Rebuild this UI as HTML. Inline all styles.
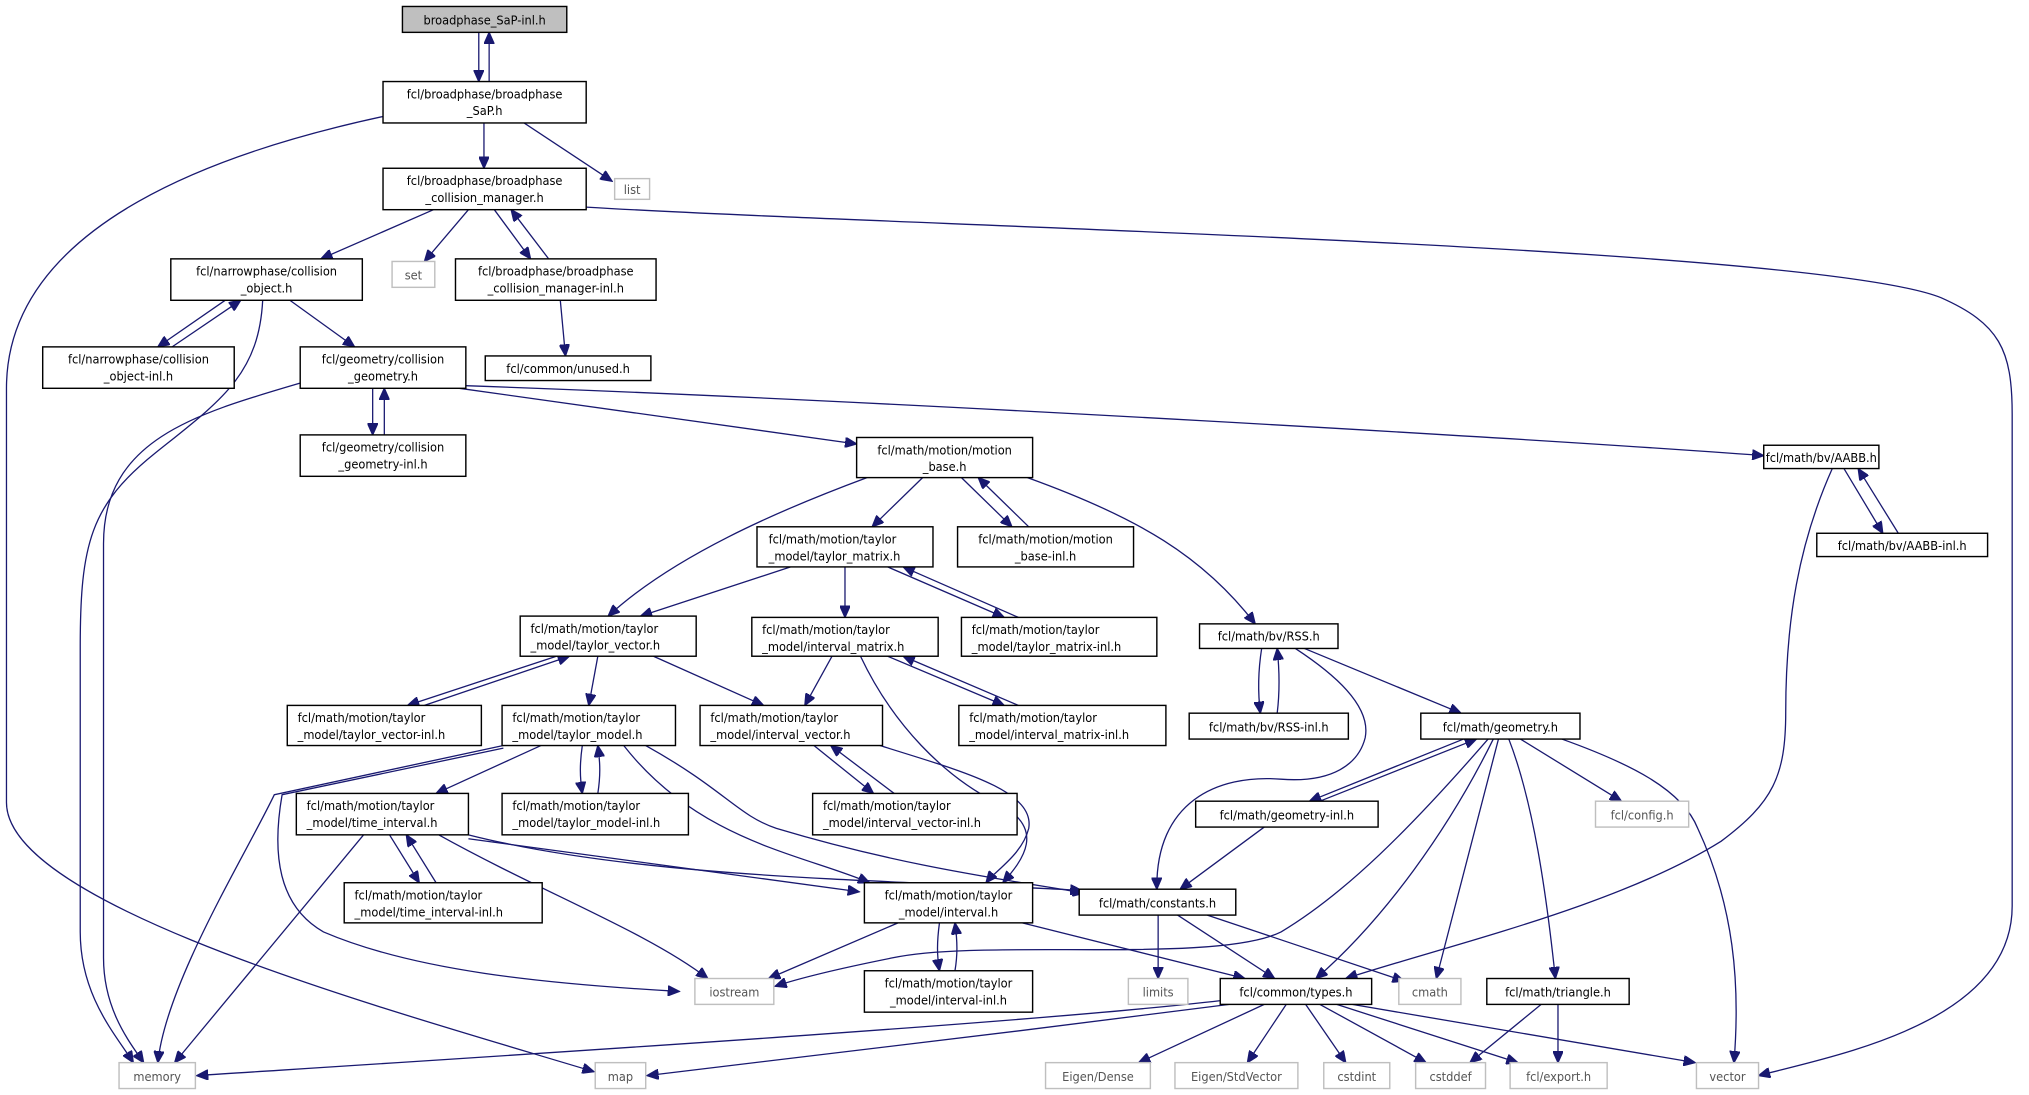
<!DOCTYPE html>
<html><head><meta charset="utf-8"><style>
html,body{margin:0;padding:0;background:#fff;}
svg{display:block;}
text{font-family:"DejaVu Sans Condensed","DejaVu Sans","Liberation Sans",sans-serif;font-size:9.8px;fill:#000;}
.b{fill:#fff;stroke:#000;stroke-width:1.1;}
.g{fill:#fff;stroke:#bfbfbf;stroke-width:1.1;}
.gt{fill:#555;}
path{fill:none;stroke:#191970;stroke-width:1;}
</style></head><body>
<svg width="2029" height="1095" viewBox="0 0 1568 846" preserveAspectRatio="none" xmlns="http://www.w3.org/2000/svg">
<defs><marker id="a" markerUnits="userSpaceOnUse" markerWidth="10" markerHeight="8" refX="9" refY="4" orient="auto"><path d="M0,0 L9,4 L0,8 Z" style="fill:#191970;stroke:#191970"/></marker></defs>
<g marker-end="url(#a)">
<path d="M370,25 L370,63"/><path d="M378,63 L378,25"/>
<path d="M374,95 L374,130"/>
<path d="M405,95 L473,140"/>
<path d="M296,90 C180,115 5,170 5,300 L5,620 C5,700 300,780 459,828"/>
<path d="M453,160 C700,175 1400,190 1500,230 C1545,250 1555,270 1555,320 L1555,700 C1555,790 1420,815 1359,831"/>
<path d="M335,162 L248,200"/>
<path d="M362,162 L328,202"/>
<path d="M382,162 L410,200"/><path d="M424,200 L395,162"/>
<path d="M433,232 L437,275"/>
<path d="M174,232 L122,268"/><path d="M133,268 L186,232"/>
<path d="M224,232 L274,268"/>
<path d="M203,232 C200,290 170,310 120,350 C70,390 62,420 62,500 L62,720 C62,770 90,800 103,821"/>
<path d="M232,296 C150,320 80,340 80,420 L80,740 C80,780 100,805 111,821"/>
<path d="M389,576 L212,614 C190,660 128,760 122,821"/>
<path d="M281,645 L135,821"/>
<path d="M288,300 L288,336"/><path d="M297,336 L297,300"/>
<path d="M355,300 L662,343"/>
<path d="M360,298 C700,310 1200,340 1363,352"/>
<path d="M713,369 L674,407"/>
<path d="M743,369 L782,407"/><path d="M795,407 L756,369"/>
<path d="M794,369 C880,400 930,430 970,482"/>
<path d="M670,369 C600,395 520,430 470,476"/>
<path d="M611,438 L495,476"/>
<path d="M653,438 L653,477"/>
<path d="M686,438 L776,477"/><path d="M787,477 L698,438"/>
<path d="M643,507 L622,545"/>
<path d="M686,507 L776,545"/><path d="M787,545 L698,507"/>
<path d="M665,507 C690,560 730,600 770,620 C810,640 790,665 775,682"/>
<path d="M680,576 C740,595 800,610 795,640 C790,660 770,672 762,682"/>
<path d="M975,501 C972,520 972,535 974,551"/><path d="M987,551 C989,535 989,520 987,501"/>
<path d="M1008,501 L1129,551"/>
<path d="M1001,501 C1030,520 1060,545 1055,570 C1050,590 1030,605 990,602 C940,598 893,620 894,687"/>
<path d="M1131,571 L1012,619"/><path d="M1020,619 L1141,571"/>
<path d="M977,639 L912,687"/>
<path d="M1175,571 L1253,619"/>
<path d="M1207,571 C1260,590 1300,610 1312,640 C1340,700 1345,760 1340,821"/>
<path d="M1166,571 C1185,620 1195,690 1202,756"/>
<path d="M1158,571 L1110,756"/>
<path d="M1154,571 C1120,640 1070,710 1017,756"/>
<path d="M1150,571 C1090,640 1040,690 990,720 C940,745 760,725 690,740 C650,748 620,755 599,762"/>
<path d="M1416,362 C1390,420 1380,480 1380,550 C1380,600 1370,620 1330,650 C1250,700 1120,730 1040,756"/>
<path d="M1425,362 L1455,412"/><path d="M1467,412 L1436,362"/>
<path d="M430,507 L315,545"/><path d="M328,545 L440,507"/>
<path d="M462,507 L455,545"/>
<path d="M505,507 L590,545"/>
<path d="M450,576 C448,590 448,600 450,613"/><path d="M462,613 C464,600 464,590 462,576"/>
<path d="M418,576 L337,613"/>
<path d="M482,576 C540,650 620,660 672,682"/>
<path d="M499,576 C560,610 570,630 600,640 C700,670 780,680 838,690"/>
<path d="M389,578 L218,614 C210,660 215,700 250,720 C320,750 420,760 525,766"/>
<path d="M629,576 L675,613"/><path d="M691,613 L642,576"/>
<path d="M301,645 L324,682"/><path d="M337,682 L314,645"/>
<path d="M339,645 C420,690 500,720 547,756"/>
<path d="M362,648 L664,689"/>
<path d="M362,645 C500,680 700,680 836,688"/>
<path d="M726,713 C724,728 724,738 726,750"/><path d="M738,750 C740,738 740,728 738,713"/>
<path d="M694,713 L594,756"/>
<path d="M790,713 L962,756"/>
<path d="M895,707 L895,756"/>
<path d="M910,707 L985,756"/>
<path d="M933,707 L1085,758"/>
<path d="M944,773 C800,790 400,815 152,831"/>
<path d="M950,776 C800,795 600,820 500,831"/>
<path d="M977,776 L880,821"/>
<path d="M994,776 L964,821"/>
<path d="M1009,776 L1040,821"/>
<path d="M1020,776 L1102,821"/>
<path d="M1033,776 L1173,821"/>
<path d="M1045,776 L1310,821"/>
<path d="M1191,776 L1136,821"/>
<path d="M1204,776 L1204,821"/>
</g>
<!-- nodes -->
<rect x="311" y="5" width="127" height="20" style="fill:#bfbfbf;stroke:#000;stroke-width:1.1"/><text x="374.5" y="19" text-anchor="middle">broadphase_SaP-inl.h</text>
<rect class="b" x="296" y="63" width="157" height="32"/><text x="374.5" y="76" text-anchor="middle">fcl/broadphase/broadphase</text><text x="374.5" y="89" text-anchor="middle">_SaP.h</text>
<rect class="g" x="475" y="138" width="27" height="16"/><text class="gt" x="488.5" y="150" text-anchor="middle">list</text>
<rect class="b" x="296" y="130" width="157" height="32"/><text x="374.5" y="143" text-anchor="middle">fcl/broadphase/broadphase</text><text x="374.5" y="156" text-anchor="middle">_collision_manager.h</text>
<rect class="g" x="303" y="202" width="33" height="20"/><text class="gt" x="319.5" y="216" text-anchor="middle">set</text>
<rect class="b" x="352" y="200" width="155" height="32"/><text x="429.5" y="213" text-anchor="middle">fcl/broadphase/broadphase</text><text x="429.5" y="226" text-anchor="middle">_collision_manager-inl.h</text>
<rect class="b" x="132" y="200" width="148" height="32"/><text x="206" y="213" text-anchor="middle">fcl/narrowphase/collision</text><text x="206" y="226" text-anchor="middle">_object.h</text>
<rect class="b" x="33" y="268" width="148" height="32"/><text x="107" y="281" text-anchor="middle">fcl/narrowphase/collision</text><text x="107" y="294" text-anchor="middle">_object-inl.h</text>
<rect class="b" x="232" y="268" width="128" height="32"/><text x="296" y="281" text-anchor="middle">fcl/geometry/collision</text><text x="296" y="294" text-anchor="middle">_geometry.h</text>
<rect class="b" x="375" y="275" width="128" height="19"/><text x="439" y="288" text-anchor="middle">fcl/common/unused.h</text>
<rect class="b" x="232" y="336" width="128" height="32"/><text x="296" y="349" text-anchor="middle">fcl/geometry/collision</text><text x="296" y="362" text-anchor="middle">_geometry-inl.h</text>
<rect class="b" x="662" y="338" width="136" height="31"/><text x="730" y="351" text-anchor="middle">fcl/math/motion/motion</text><text x="730" y="364" text-anchor="middle">_base.h</text>
<rect class="b" x="1363" y="344" width="89" height="18"/><text x="1407.5" y="357" text-anchor="middle">fcl/math/bv/AABB.h</text>
<rect class="b" x="1404" y="412" width="132" height="18"/><text x="1470" y="425" text-anchor="middle">fcl/math/bv/AABB-inl.h</text>
<rect class="b" x="585" y="407" width="136" height="31"/><text x="594" y="420">fcl/math/motion/taylor</text><text x="594" y="433">_model/taylor_matrix.h</text>
<rect class="b" x="740" y="407" width="136" height="31"/><text x="808" y="420" text-anchor="middle">fcl/math/motion/motion</text><text x="808" y="433" text-anchor="middle">_base-inl.h</text>
<rect class="b" x="581" y="477" width="144" height="30"/><text x="589" y="490">fcl/math/motion/taylor</text><text x="589" y="503">_model/interval_matrix.h</text>
<rect class="b" x="743" y="477" width="151" height="30"/><text x="751" y="490">fcl/math/motion/taylor</text><text x="751" y="503">_model/taylor_matrix-inl.h</text>
<rect class="b" x="927" y="482" width="107" height="19"/><text x="980.5" y="495" text-anchor="middle">fcl/math/bv/RSS.h</text>
<rect class="b" x="919" y="551" width="123" height="20"/><text x="980.5" y="565" text-anchor="middle">fcl/math/bv/RSS-inl.h</text>
<rect class="b" x="741" y="545" width="160" height="31"/><text x="749" y="558">fcl/math/motion/taylor</text><text x="749" y="571">_model/interval_matrix-inl.h</text>
<rect class="b" x="541" y="545" width="141" height="31"/><text x="549" y="558">fcl/math/motion/taylor</text><text x="549" y="571">_model/interval_vector.h</text>
<rect class="b" x="402" y="476" width="136" height="31"/><text x="410" y="489">fcl/math/motion/taylor</text><text x="410" y="502">_model/taylor_vector.h</text>
<rect class="b" x="222" y="545" width="150" height="31"/><text x="230" y="558">fcl/math/motion/taylor</text><text x="230" y="571">_model/taylor_vector-inl.h</text>
<rect class="b" x="388" y="545" width="134" height="31"/><text x="396" y="558">fcl/math/motion/taylor</text><text x="396" y="571">_model/taylor_model.h</text>
<rect class="b" x="388" y="613" width="144" height="32"/><text x="396" y="626">fcl/math/motion/taylor</text><text x="396" y="639">_model/taylor_model-inl.h</text>
<rect class="b" x="628" y="613" width="158" height="32"/><text x="636" y="626">fcl/math/motion/taylor</text><text x="636" y="639">_model/interval_vector-inl.h</text>
<rect class="b" x="229" y="613" width="133" height="32"/><text x="237" y="626">fcl/math/motion/taylor</text><text x="237" y="639">_model/time_interval.h</text>
<rect class="b" x="266" y="682" width="153" height="31"/><text x="274" y="695">fcl/math/motion/taylor</text><text x="274" y="708">_model/time_interval-inl.h</text>
<rect class="b" x="668" y="682" width="130" height="31"/><text x="733" y="695" text-anchor="middle">fcl/math/motion/taylor</text><text x="733" y="708" text-anchor="middle">_model/interval.h</text>
<rect class="b" x="668" y="750" width="130" height="32"/><text x="733" y="763" text-anchor="middle">fcl/math/motion/taylor</text><text x="733" y="776" text-anchor="middle">_model/interval-inl.h</text>
<rect class="b" x="834" y="687" width="121" height="20"/><text x="894.5" y="701" text-anchor="middle">fcl/math/constants.h</text>
<rect class="b" x="1098" y="551" width="123" height="20"/><text x="1159.5" y="565" text-anchor="middle">fcl/math/geometry.h</text>
<rect class="b" x="924" y="619" width="141" height="20"/><text x="994.5" y="633" text-anchor="middle">fcl/math/geometry-inl.h</text>
<rect class="g" x="1233" y="619" width="72" height="20"/><text class="gt" x="1269" y="633" text-anchor="middle">fcl/config.h</text>
<rect class="g" x="872" y="756" width="46" height="20"/><text class="gt" x="895" y="770" text-anchor="middle">limits</text>
<rect class="g" x="1081" y="756" width="48" height="20"/><text class="gt" x="1105" y="770" text-anchor="middle">cmath</text>
<rect class="g" x="537" y="756" width="61" height="20"/><text class="gt" x="567.5" y="770" text-anchor="middle">iostream</text>
<rect class="b" x="943" y="756" width="117" height="20"/><text x="1001.5" y="770" text-anchor="middle">fcl/common/types.h</text>
<rect class="b" x="1149" y="756" width="110" height="20"/><text x="1204" y="770" text-anchor="middle">fcl/math/triangle.h</text>
<rect class="g" x="92" y="821" width="59" height="20"/><text class="gt" x="121.5" y="835" text-anchor="middle">memory</text>
<rect class="g" x="460" y="821" width="39" height="20"/><text class="gt" x="479.5" y="835" text-anchor="middle">map</text>
<rect class="g" x="808" y="821" width="81" height="20"/><text class="gt" x="848.5" y="835" text-anchor="middle">Eigen/Dense</text>
<rect class="g" x="908" y="821" width="95" height="20"/><text class="gt" x="955.5" y="835" text-anchor="middle">Eigen/StdVector</text>
<rect class="g" x="1023" y="821" width="51" height="20"/><text class="gt" x="1048.5" y="835" text-anchor="middle">cstdint</text>
<rect class="g" x="1094" y="821" width="54" height="20"/><text class="gt" x="1121" y="835" text-anchor="middle">cstddef</text>
<rect class="g" x="1167" y="821" width="75" height="20"/><text class="gt" x="1204.5" y="835" text-anchor="middle">fcl/export.h</text>
<rect class="g" x="1311" y="821" width="48" height="20"/><text class="gt" x="1335" y="835" text-anchor="middle">vector</text>
</svg>
</body></html>
